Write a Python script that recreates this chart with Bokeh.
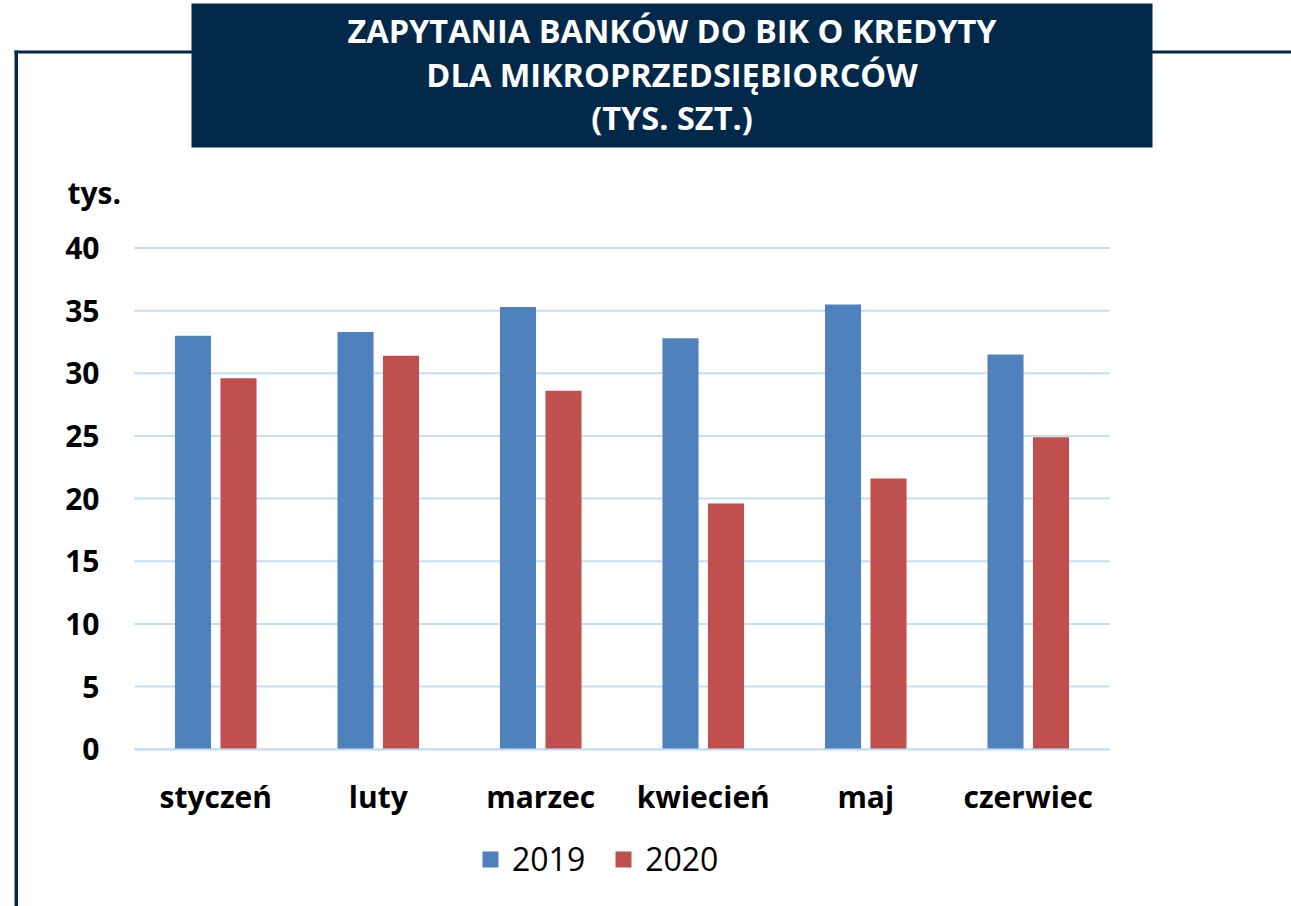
from bokeh.plotting import figure
from bokeh.models import (Range1d, BoxAnnotation, Label, Legend, LegendItem,
                          ColumnDataSource, FixedTicker)
from bokeh.transform import dodge
from bokeh.embed import file_html
from bokeh.resources import INLINE

months = ["styczeń", "luty", "marzec", "kwiecień", "maj", "czerwiec"]
v2019 = [33.0, 33.3, 35.3, 32.8, 35.5, 31.5]
v2020 = [29.6, 31.4, 28.6, 19.6, 21.6, 24.9]
series = ["2019", "2020"]
yticks = [0, 5, 10, 15, 20, 25, 30, 35, 40]
title_lines = ["ZAPYTANIA BANKÓW DO BIK O KREDYTY", "DLA MIKROPRZEDSIĘBIORCÓW", "(TYS. SZT.)"]
unit_label = "tys."

NAVY = "#03294A"
BLUE = "#4F81BD"
RED = "#C0504D"
GRID = "#C3DFF6"
FONT = "Open Sans"

W, H = 1291, 906
idx = list(range(len(months)))
src = ColumnDataSource(dict(i=idx, v2019=v2019, v2020=v2020))

# canvas-wide frame; plot area spans x in [-0.5, 5.5], y in [0, 40]
px_per_cat = 162.5
px_per_unit = 12.53
x0_px, y0_px = 215.25, 748.7
p = figure(width=W, height=H, output_backend="svg", toolbar_location=None,
           x_range=Range1d(-x0_px / px_per_cat, (W - x0_px) / px_per_cat),
           y_range=Range1d(-(H - y0_px) / px_per_unit, y0_px / px_per_unit),
           min_border=0, min_border_left=0, min_border_right=0,
           min_border_top=0, min_border_bottom=0)
p.outline_line_color = None
p.background_fill_color = "white"
p.border_fill_color = "white"
p.xgrid.grid_line_color = None
p.ygrid.grid_line_color = None

# gridlines limited to the plot area
p.segment(x0=[-0.5] * len(yticks), x1=[len(months) - 0.5] * len(yticks),
          y0=yticks, y1=yticks, line_color=GRID, line_width=2)

r1 = p.vbar(x=dodge("i", -0.14), top="v2019", width=0.222,
            source=src, fill_color=BLUE, line_color=None)
r2 = p.vbar(x=dodge("i", 0.14), top="v2020", width=0.222,
            source=src, fill_color=RED, line_color=None)

# axes fixed inside the frame
ya = p.yaxis[0]
ya.fixed_location = -0.5
ya.bounds = (0, 40)
ya.ticker = FixedTicker(ticks=yticks)
ya.axis_line_color = None
ya.major_tick_line_color = None
ya.minor_tick_line_color = None
ya.major_tick_out = 0
ya.major_tick_in = 0
ya.major_label_standoff = 35
ya.major_label_text_font = FONT
ya.major_label_text_font_style = "bold"
ya.major_label_text_font_size = "30px"
ya.major_label_text_color = "black"

xa = p.xaxis[0]
xa.fixed_location = 0
xa.bounds = (-0.5, len(months) - 0.5)
xa.ticker = FixedTicker(ticks=idx)
xa.major_label_overrides = {i: m for i, m in zip(idx, months)}
xa.axis_line_color = GRID
xa.axis_line_width = 2
xa.major_tick_line_color = None
xa.minor_tick_line_color = None
xa.major_tick_out = 0
xa.major_tick_in = 0
xa.major_label_standoff = 27
xa.major_label_text_font = FONT
xa.major_label_text_font_style = "bold"
xa.major_label_text_font_size = "30px"
xa.major_label_text_color = "black"


def box(l, r, b, t):
    return BoxAnnotation(left=l, right=r, bottom=b, top=t,
                         left_units="screen", right_units="screen",
                         bottom_units="screen", top_units="screen",
                         fill_color=NAVY, fill_alpha=1, line_color=None, level="overlay")


# decoration frame lines (screen units: x from left, y from bottom)
p.add_layout(box(14, W + 5, H - 53, H - 50))
p.add_layout(box(14, 17.5, -5, H - 50))
# title box
p.add_layout(box(191, 1152, H - 147, H - 3))
for line, yy in zip(title_lines, [30, 74, 117]):
    p.add_layout(Label(x=671.5, y=H - yy, x_units="screen", y_units="screen", text=line,
                       text_align="center", text_baseline="middle", text_color="white",
                       text_font=FONT, text_font_style="bold", text_font_size="32.5px",
                       level="overlay"))

p.add_layout(Label(x=67, y=H - 192, x_units="screen", y_units="screen", text=unit_label,
                   text_align="left", text_baseline="alphabetic", text_color="black",
                   text_font=FONT, text_font_style="bold", text_font_size="30px"))

legend = Legend(items=[LegendItem(label=series[0], renderers=[r1]),
                       LegendItem(label=series[1], renderers=[r2])],
                location=(480, 26), orientation="horizontal",
                glyph_width=20, glyph_height=20, label_standoff=12, spacing=28,
                padding=0, margin=0, border_line_color=None, background_fill_alpha=0,
                label_text_font=FONT, label_text_font_size="32px",
                label_text_color="black")
p.add_layout(legend)

open("out.html", "w").write(file_html(p, INLINE))
